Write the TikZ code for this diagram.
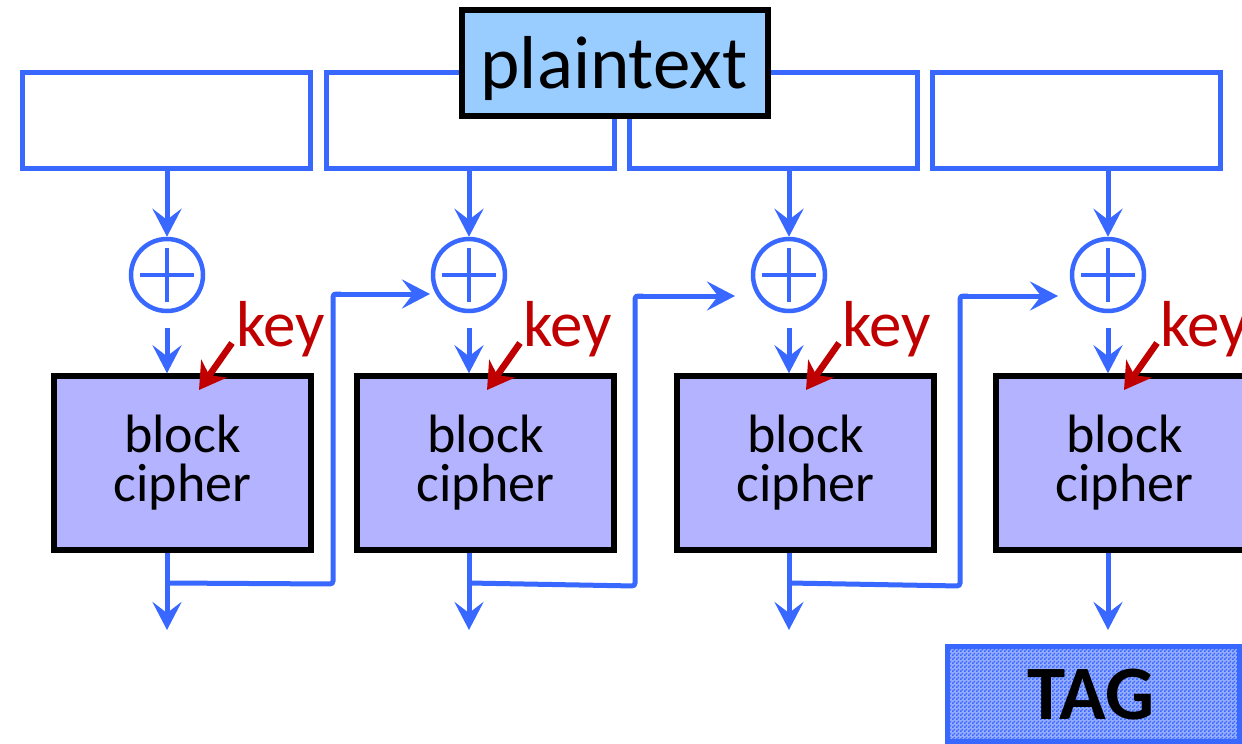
\documentclass[tikz,border=0pt]{standalone}
\usepackage{fontspec}
\setmainfont{Carlito}
\usetikzlibrary{arrows.meta,patterns}
\definecolor{myblue}{RGB}{56,104,255}
\definecolor{ptfill}{RGB}{153,204,255}
\definecolor{blkfill}{RGB}{179,179,255}
\definecolor{keyred}{RGB}{192,0,0}
\definecolor{tagback}{RGB}{150,172,255}
\pgfdeclarepatternformonly{fchecker}{\pgfpointorigin}{\pgfpoint{4pt}{4pt}}{\pgfpoint{4pt}{4pt}}{%
  \pgfpathrectangle{\pgfpointorigin}{\pgfpoint{2pt}{2pt}}%
  \pgfpathrectangle{\pgfpoint{2pt}{2pt}}{\pgfpoint{2pt}{2pt}}%
  \pgfusepath{fill}}
\tikzset{
  inbox/.style={draw=myblue, line width=5pt, rectangle, minimum width=288pt, minimum height=96pt, inner sep=0pt, fill=white},
  ptbox/.style={draw=black, line width=5.5pt, fill=ptfill, rectangle, minimum width=306pt, minimum height=106pt, inner sep=0pt},
  xor/.style={draw=myblue, line width=4.5pt, circle, minimum size=72pt, inner sep=0pt},
  xline/.style={draw=myblue, line width=4.5pt},
  blk/.style={draw=black, line width=5.5pt, fill=blkfill, rectangle, minimum width=257pt, minimum height=174pt, inner sep=0pt},
  blktext/.style={font=\fontsize{54}{51}\selectfont, inner sep=0pt, anchor=base},
  arr/.style={draw=myblue, line width=5pt, -{Stealth[length=28pt, width=29pt, inset=11pt]}},
  chain/.style={draw=myblue, line width=5pt, rounded corners=3pt},
  keyl/.style={text=keyred, inner sep=0pt, font=\fontsize{65}{70}\selectfont},
  keyarr/.style={draw=keyred, line width=6.5pt, -{Stealth[length=26pt, width=31pt, inset=8pt]}},
  tagbox/.style={draw=myblue, line width=5pt, fill=tagback, postaction={pattern=fchecker, pattern color=myblue}, rectangle, minimum width=292pt, minimum height=95pt, inner sep=0pt}
}
\begin{document}
\begin{tikzpicture}[x=1pt,y=-1pt]
\useasboundingbox (0,0) rectangle (1242,744);
% input blocks
\node[inbox] (in1) at (166,120) {};
\node[inbox] (in2) at (470,120) {};
\node[inbox] (in3) at (773,120) {};
\node[inbox] (in4) at (1076,120) {};
\node[ptbox] (pt) at (615,63) {};
\node[font=\fontsize{75}{80}\selectfont, inner sep=0pt, anchor=base] (ptt) at (614,88) {plaintext};
% xor nodes
\foreach \i/\x in {1/167,2/469,3/789,4/1108}{
  \node[xor] (x\i) at (\x,275) {};
  \draw[xline] ([xshift=-27pt]x\i.center) -- ([xshift=27pt]x\i.center);
  \draw[xline] ([yshift=-27pt]x\i.center) -- ([yshift=27pt]x\i.center);
  \coordinate (s\i) at (\x,328);
  \coordinate (j\i) at (\x,583);
  \coordinate (o\i) at (\x,630);
}
% block ciphers
\foreach \i/\x in {1/182.5,2/485.5,3/805.5,4/1124.5}{
  \node[blk] (b\i) at (\x,463) {};
  \node[blktext] (bt\i) at (\x,452) {block};
  \node[blktext] (ct\i) at (\x,501) {cipher};
}
% arrows
\foreach \i in {1,2,3,4}{
  \draw[arr] (x\i |- in\i.south) -- (x\i.north);
  \draw[arr] (s\i) -- (x\i |- b\i.north);
  \draw[arr] (x\i |- b\i.south) -- (o\i);
}
% chaining
\coordinate (k1) at (333,584); \coordinate (m1) at (333,294); \coordinate (t1) at (430,294);
\coordinate (k2) at (635,586); \coordinate (m2) at (635,296); \coordinate (t2) at (735,296);
\coordinate (k3) at (960,586); \coordinate (m3) at (960,296); \coordinate (t3) at (1058,296);
\draw[chain] (j1) -- (k1) -- (m1) -- ++(8,0);
\draw[arr] (m1) -- (t1);
\draw[chain] (j2) -- (k2) -- (m2) -- ++(8,0);
\draw[arr] (m2) -- (t2);
\draw[chain] (j3) -- (k3) -- (m3) -- ++(8,0);
\draw[arr] (m3) -- (t3);
% keys
\foreach \i/\kx/\ax/\bx in {1/236/232/199,2/523/520/487,3/842/839/806,4/1160/1157/1124}{
  \node[keyl, anchor=base west] (key\i) at (\kx,346) {key};
  \coordinate (ka\i) at (\ax,343);
  \coordinate (kb\i) at (\bx,390);
  \draw[keyarr] (ka\i) -- (kb\i);
}
% tag
\node[tagbox] (tag) at (1093,693.5) {};
\node[font=\fontsize{77}{80}\selectfont\bfseries, inner sep=0pt, anchor=base] (tagt) at (1091,719) {TAG};
\end{tikzpicture}
\end{document}
